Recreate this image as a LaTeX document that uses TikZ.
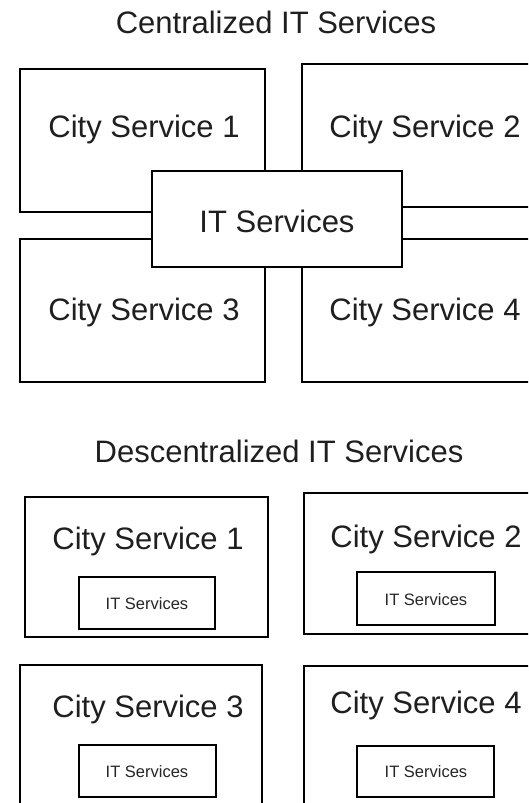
\documentclass[tikz,border=0pt]{standalone}
\usepackage{fontspec}
\setmainfont{Liberation Sans}
\begin{document}
\begin{tikzpicture}[x=1pt,y=-1pt,
  bigbox/.style={draw=black, line width=2.8pt, fill=white, inner sep=0pt, outer sep=0pt, anchor=north west},
  smallbox/.style={draw=black, line width=1.8pt, fill=white, inner sep=0pt, outer sep=0pt, anchor=north west},
  bigtext/.style={anchor=base, inner sep=0pt, text=black!88, font=\fontsize{31pt}{37pt}\selectfont},
  smalltext/.style={anchor=base, inner sep=0pt, text=black!85, font=\fontsize{16.5pt}{20pt}\selectfont}
]
\useasboundingbox (0,0) rectangle (528,803);
\clip (0,0) rectangle (528,803);
\fill[white] (0,0) rectangle (528,803);

% --- Centralized layout ---
\node[bigtext] (t1) at (276,33) {Centralized IT Services};

\node[bigbox, minimum width=245pt, minimum height=143pt] (c1) at (20,69) {};
\node[bigbox, minimum width=245pt, minimum height=143pt] (c2) at (302,64) {};
\node[bigbox, minimum width=245pt, minimum height=143pt] (c3) at (20,239) {};
\node[bigbox, minimum width=245pt, minimum height=143pt] (c4) at (302,239) {};
\node[bigbox, minimum width=250pt, minimum height=96pt] (cit) at (152,171) {};

\node[bigtext] (c1t) at (144,137) {City Service 1};
\node[bigtext] (c2t) at (425,137) {City Service 2};
\node[bigtext] (c3t) at (144,320) {City Service 3};
\node[bigtext] (c4t) at (425,320) {City Service 4};
\node[bigtext] (citt) at (277,232) {IT Services};

% --- Decentralized layout ---
\node[bigtext] (t2) at (279,462) {Descentralized IT Services};

\node[bigbox, minimum width=243pt, minimum height=140pt] (d1) at (25,497) {};
\node[bigbox, minimum width=243pt, minimum height=141pt] (d2) at (304,493) {};
\node[bigbox, minimum width=242pt, minimum height=150pt] (d3) at (20,665) {};
\node[bigbox, minimum width=243pt, minimum height=150pt] (d4) at (304,666) {};

\node[bigtext] (d1t) at (148,549) {City Service 1};
\node[bigtext] (d2t) at (426,547) {City Service 2};
\node[bigtext] (d3t) at (148,717) {City Service 3};
\node[bigtext] (d4t) at (426,713) {City Service 4};

\node[smallbox, minimum width=136pt, minimum height=52pt] (i1) at (79,577) {};
\node[smallbox, minimum width=138pt, minimum height=53pt] (i2) at (357,572) {};
\node[smallbox, minimum width=137pt, minimum height=52pt] (i3) at (79,745) {};
\node[smallbox, minimum width=137pt, minimum height=51pt] (i4) at (357,746) {};

\node[smalltext] (i1t) at (147,609) {IT Services};
\node[smalltext] (i2t) at (426,605) {IT Services};
\node[smalltext] (i3t) at (147,777) {IT Services};
\node[smalltext] (i4t) at (426,777) {IT Services};
\end{tikzpicture}
\end{document}
